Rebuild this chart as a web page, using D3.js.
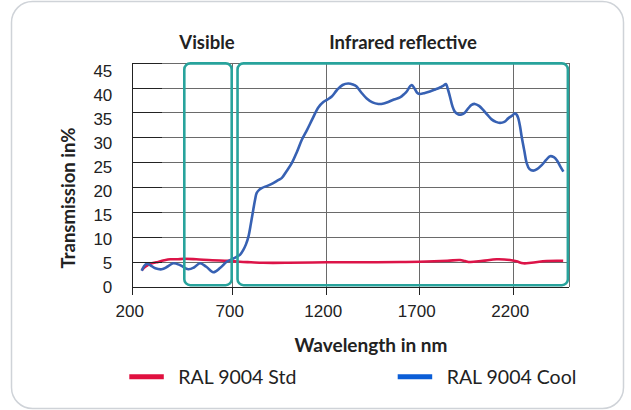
<!DOCTYPE html>
<html lang="en">
<head>
  <meta charset="UTF-8">
  <title>Transmission chart</title>
  <style>
    body { margin: 0; background: #fff; }
    svg { display: block; font-family: Lato, sans-serif; }
    .grid line { stroke: #6a6a6a; stroke-width: 1; shape-rendering: crispEdges; }
    .grid path { display: none; }
    .axis path, .axis line { stroke: #222; shape-rendering: crispEdges; }
    .axis text { font-size: 17px; fill: #222; }
  </style>
</head>
<body>
<div class="chart"></div>
<script src="https://d3js.org/d3.v7.min.js"></script>
<script>
  // data
  let xTicks = [200, 700, 1200, 1700, 2200]
  let yTicks = [0, 5, 10, 15, 20, 25, 30, 35, 40, 45]
  let visibleBand = [460, 697]
  let infraredBand = [728, 2495]

  let coolWl = [247, 260, 272, 290, 315, 347, 375, 405, 440, 480, 510, 538, 570, 605, 640, 672, 697, 723, 741, 759,
    773, 786, 800, 812, 822, 830, 845, 857, 890, 919, 945, 964, 990, 1018, 1045, 1072, 1100, 1130, 1160, 1187,
    1210, 1232, 1260, 1290, 1320, 1345, 1365, 1390, 1419, 1450, 1481, 1510, 1534, 1565, 1597, 1620, 1633, 1650,
    1660, 1675, 1690, 1704, 1730, 1757, 1785, 1811, 1830, 1843, 1852, 1864, 1877, 1891, 1910, 1926, 1945, 1962,
    1980, 1998, 2020, 2042, 2065, 2087, 2110, 2132, 2155, 2176, 2195, 2212, 2222, 2230, 2240, 2248, 2262, 2275,
    2290, 2310, 2330, 2355, 2380, 2400, 2420, 2436, 2455, 2471]
  let coolVal = [3.2, 4.2, 4.6, 4.3, 3.7, 3.5, 4.0, 4.7, 4.3, 3.5, 3.9, 4.7, 4.0, 2.9, 3.8, 5.0, 5.5, 6.0, 6.4, 7.4,
    8.5, 10, 12.8, 15.4, 17.5, 18.8, 19.5, 19.8, 20.3, 20.8, 21.4, 21.8, 23.2, 24.8, 27, 29.5, 31.5, 33.8, 36, 37.1,
    37.6, 38.2, 39.5, 40.5, 40.8, 40.6, 40.2, 39.0, 37.8, 37.0, 36.7, 36.8, 37.1, 37.6, 38.0, 38.7, 39.2, 40.2,
    40.5, 39.8, 38.9, 38.7, 38.9, 39.2, 39.6, 40.0, 40.4, 40.7, 39.8, 38.2, 36.3, 35.1, 34.6, 34.6, 35.0, 35.8,
    36.5, 36.7, 36.3, 35.5, 34.5, 33.6, 33.1, 32.9, 33.1, 33.8, 34.3, 34.8, 34.5, 33.8, 32.0, 30.1, 27.3, 24.8,
    23.6, 23.3, 23.6, 24.4, 25.5, 26.2, 26.0, 25.4, 24.1, 23.1]

  let stdWl = [247, 265, 290, 320, 360, 390, 422, 460, 520, 600, 680, 740, 800, 866, 1000, 1205, 1400, 1600, 1704,
    1850, 1918, 1945, 1971, 2040, 2114, 2185, 2220, 2256, 2300, 2381, 2470]
  let stdVal = [3.3, 4.0, 4.6, 4.9, 5.3, 5.5, 5.5, 5.6, 5.5, 5.3, 5.2, 5.0, 4.9, 4.8, 4.8, 4.9, 4.9, 4.95, 5.0,
    5.2, 5.36, 5.15, 4.96, 5.2, 5.5, 5.36, 5.1, 4.7, 4.8, 5.16, 5.2]

  let seriesNames = ['RAL 9004 Std', 'RAL 9004 Cool']

  let width = 631
  let height = 410
  let svg = d3.select('.chart').append('svg').attr('width', width).attr('height', height)

  // the original axis is a little wider between 200 and 700
  let xScale = d3.scaleLinear().domain([200, 700, 2500]).range([132.3, 232.3, 568.8])
  let yScale = d3.scaleLinear().domain([0, 45]).range([286.7, 62.6])
  let yLabelScale = d3.scaleLinear().domain([0, 45]).range([286.7, 71.5])

  let plotL = xScale(200)
  let plotR = xScale(2500)
  let plotT = yScale(45)
  let plotB = yScale(0)

  // card
  svg.append('rect')
    .attr('x', 11.5).attr('y', 1.5).attr('width', 612).attr('height', 407)
    .attr('rx', 21).attr('fill', '#fff').attr('stroke', '#cfd3d8').attr('stroke-width', 1.5)

  drawGrid()
  drawLines()
  drawBands()
  drawAxes()
  drawTexts()
  drawLegend()

  function drawGrid () {
    svg.append('g').attr('class', 'grid')
      .attr('transform', 'translate(' + plotL + ',0)')
      .call(d3.axisLeft(yScale).tickValues(yTicks).tickSize(-(plotR - plotL)).tickFormat(''))

    svg.append('g').attr('class', 'grid')
      .attr('transform', 'translate(0,' + plotB + ')')
      .call(d3.axisBottom(xScale).tickValues(xTicks.slice(1).concat([2500])).tickSize(-(plotB - plotT)).tickFormat(''))
  }

  function drawLines () {
    let line = d3.line()
      .x(d => xScale(d[0]))
      .y(d => yScale(d[1]))
      .curve(d3.curveCatmullRom.alpha(0.5))

    svg.append('path')
      .datum(stdWl.map((w, i) => [w, stdVal[i]]))
      .attr('d', line)
      .attr('fill', 'none')
      .attr('stroke', '#dc1448')
      .attr('stroke-width', 2.6)

    svg.append('path')
      .datum(coolWl.map((w, i) => [w, coolVal[i]]))
      .attr('d', line)
      .attr('fill', 'none')
      .attr('stroke', '#3761b3')
      .attr('stroke-width', 2.6)
      .attr('stroke-linejoin', 'round')
  }

  function drawBands () {
    [visibleBand, infraredBand].forEach(b => {
      svg.append('rect')
        .attr('x', xScale(b[0]))
        .attr('y', yScale(45) + 0.8)
        .attr('width', xScale(b[1]) - xScale(b[0]))
        .attr('height', yScale(0.3) - yScale(45) - 0.8)
        .attr('rx', 6)
        .attr('fill', 'none')
        .attr('stroke', '#28a39c')
        .attr('stroke-width', 2.6)
    })
  }

  function drawAxes () {
    // short dark ticks inside the plot + left axis line
    svg.append('g').attr('class', 'axis')
      .attr('transform', 'translate(' + plotL + ',0)')
      .call(d3.axisLeft(yScale).tickValues(yTicks).tickSize(-30).tickSizeOuter(0).tickFormat(''))

    svg.append('g').attr('class', 'axis')
      .attr('transform', 'translate(' + plotL + ',0)')
      .call(d3.axisLeft(yLabelScale).tickValues(yTicks).tickSize(0).tickPadding(20).tickFormat(d3.format('d')))
      .call(g => g.select('.domain').remove())

    svg.append('g').attr('class', 'axis')
      .attr('transform', 'translate(0,' + plotB + ')')
      .call(d3.axisBottom(xScale).tickValues(xTicks).tickSize(8).tickSizeOuter(0).tickPadding(10).tickFormat(d3.format('d')))
      .call(g => g.selectAll('text').attr('dx', -3))
  }

  function drawTexts () {
    let add = (x, y, t, size) => svg.append('text')
      .attr('x', x).attr('y', y).attr('text-anchor', 'middle')
      .attr('font-weight', 700).attr('font-size', size).attr('fill', '#222').text(t)

    add(207, 48.5, 'Visible', '18.5px')
    add(403, 48.5, 'Infrared reflective', '18.5px')
    add(371, 351.5, 'Wavelength in nm', '19px')

    svg.append('text')
      .attr('transform', 'translate(74.5,198) rotate(-90)')
      .attr('text-anchor', 'middle')
      .attr('font-weight', 700).attr('font-size', '18.5px').attr('fill', '#222')
      .text('Transmission in%')
  }

  function drawLegend () {
    let legendX = [129.3, 397.7]
    let legendColor = ['#e0103f', '#0b5ed7']
    seriesNames.forEach((name, i) => {
      svg.append('line')
        .attr('x1', legendX[i]).attr('x2', legendX[i] + 34.5)
        .attr('y1', 376.7).attr('y2', 376.7)
        .attr('stroke', legendColor[i]).attr('stroke-width', 5)
      svg.append('text')
        .attr('x', legendX[i] + 49).attr('y', 384.3)
        .attr('font-size', '19.5px').attr('fill', '#222')
        .text(name)
    })
  }
</script>
</body>
</html>
